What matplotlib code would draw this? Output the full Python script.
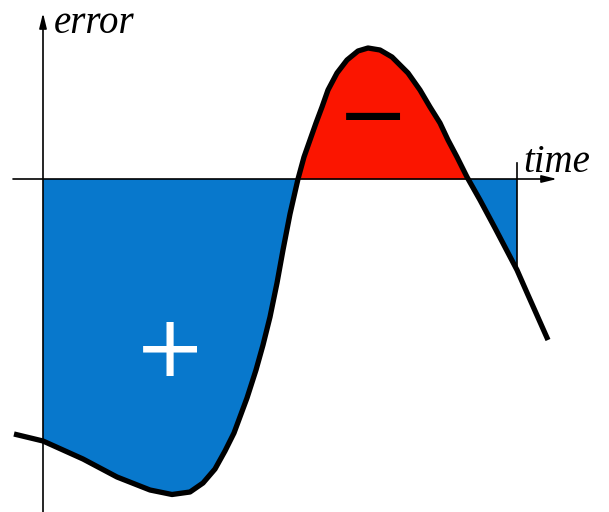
import matplotlib.pyplot as plt
import numpy as np

# curve (time, error), origin at the axes crossing
time = np.array([-0.29, 0.00, 0.40, 0.74, 1.07, 1.29, 1.47, 1.60, 1.72, 1.82,
                 1.91, 2.04, 2.13, 2.20, 2.27, 2.34, 2.40, 2.47, 2.55, 2.61,
                 2.67, 2.73, 2.79, 2.85, 2.94, 3.04, 3.15, 3.25, 3.37, 3.49,
                 3.65, 3.77, 3.87, 3.97, 4.05, 4.14, 4.24, 4.37, 4.52, 4.74,
                 4.85, 5.05])
error = np.array([-2.55, -2.62, -2.80, -2.98, -3.11, -3.155, -3.13, -3.04, -2.90, -2.72,
                  -2.54, -2.19, -1.91, -1.66, -1.38, -1.04, -0.71, -0.35, 0.00, 0.22,
                  0.39, 0.56, 0.72, 0.89, 1.06, 1.19, 1.28, 1.31, 1.29, 1.22,
                  1.06, 0.89, 0.72, 0.56, 0.39, 0.22, 0.02, -0.21, -0.49, -0.91,
                  -1.16, -1.61])
t_end = 4.74

blue = "#0878cc"
red = "#fb1500"

fig = plt.figure(figsize=(6.09, 5.12), dpi=100)
ax = fig.add_axes([0, 0, 1, 1])
ax.set_xlim(-0.43, 5.66)
ax.set_ylim(-3.33, 1.79)
ax.axis("off")

sel = (time >= 0) & (time <= t_end)
ts, es = time[sel], error[sel]
ax.fill_between(ts, es, 0, where=es <= 0, interpolate=True, color=blue, lw=0)
ax.fill_between(ts, es, 0, where=es >= 0, interpolate=True, color=red, lw=0)

# axes with arrows
arrow = dict(arrowstyle="-|>,head_length=0.9,head_width=0.22", color="black", lw=1.2,
             shrinkA=0, shrinkB=0)
ax.annotate("", xy=(5.14, 0), xytext=(-0.30, 0), arrowprops=arrow)
ax.annotate("", xy=(0, 1.66), xytext=(0, -3.40), arrowprops=arrow)
ax.plot([t_end, t_end], [0.16, error[time == t_end][0]], color="black", lw=1.2)

ax.plot(time, error, color="black", lw=3.8, solid_capstyle="butt", solid_joinstyle="round")

ax.text(0.11, 1.46, "error", family="Liberation Serif", style="italic", fontsize=28,
        ha="left", va="baseline")
ax.text(4.80, 0.07, "time", family="Liberation Serif", style="italic", fontsize=28,
        ha="left", va="baseline")
ax.text(1.27, -1.73, "+", color="white", fontsize=62, ha="center", va="center")
ax.text(3.30, 0.59, "\u2212", color="black", fontsize=62, ha="center", va="center")

fig.savefig("out.png", dpi=100)
